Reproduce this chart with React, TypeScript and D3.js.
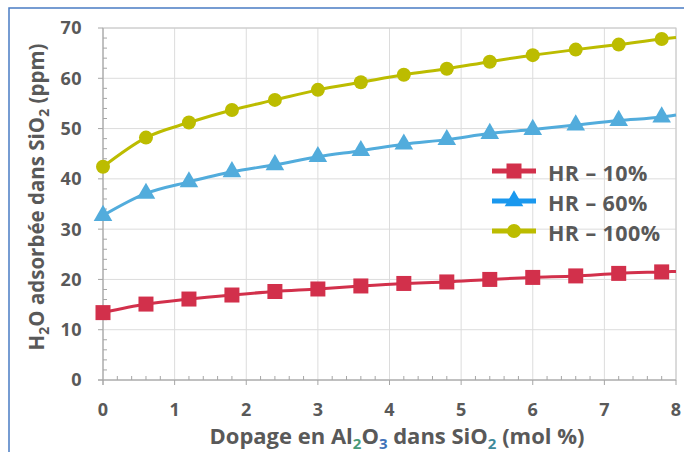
import React from "react";
import * as d3 from "d3";

const xValues = [0, 0.6, 1.2, 1.8, 2.4, 3.0, 3.6, 4.2, 4.8, 5.4, 6.0, 6.6, 7.2, 7.8];
const hr10 = [13.4, 15.1, 16.1, 16.9, 17.6, 18.1, 18.7, 19.2, 19.5, 20.0, 20.4, 20.7, 21.2, 21.5];
const hr60 = [32.7, 37.1, 39.4, 41.4, 42.8, 44.4, 45.6, 46.9, 47.8, 49.0, 49.8, 50.7, 51.6, 52.3];
const hr100 = [42.4, 48.2, 51.2, 53.7, 55.7, 57.7, 59.2, 60.7, 61.9, 63.3, 64.6, 65.7, 66.7, 67.8];
// value of each curve at the right edge of the plot (x = 8)
const lineEndX = 8;
const lineEnd = { hr10: 21.6, hr60: 52.7, hr100: 68.1 };

const xTicks = [0, 1, 2, 3, 4, 5, 6, 7, 8];
const yTicks = [0, 10, 20, 30, 40, 50, 60, 70];
const seriesNames = ["HR – 10%", "HR – 60%", "HR – 100%"];

const W = 684;
const H = 452;
const M = { left: 103, right: 676, top: 28, bottom: 380 };

const grey = "#595959";
const font = "'Open Sans', sans-serif";

export default function App() {
  const x = d3.scaleLinear().domain([0, 8]).range([M.left, M.right]);
  const y = d3.scaleLinear().domain([0, 70]).range([M.bottom, M.top]);
  const line = d3
    .line<[number, number]>()
    .x((d) => x(d[0]))
    .y((d) => y(d[1]))
    .curve(d3.curveMonotoneX);

  const series = [
    { name: seriesNames[0], vals: hr10, end: lineEnd.hr10, color: "#d2304b", legendColor: "#d2304b", shape: "square" },
    { name: seriesNames[1], vals: hr60, end: lineEnd.hr60, color: "#52acdc", legendColor: "#1a98ee", shape: "triangle" },
    { name: seriesNames[2], vals: hr100, end: lineEnd.hr100, color: "#bcbc00", legendColor: "#bcbc00", shape: "circle" },
  ];

  const marker = (shape: string, cx: number, cy: number, color: string, key: any) => {
    if (shape === "square")
      return <rect key={key} x={cx - 7.5} y={cy - 7.5} width={15} height={15} fill={color} />;
    if (shape === "triangle")
      return <path key={key} d={d3.symbol(d3.symbolTriangle, 150)()!} transform={`translate(${cx},${cy})`} fill={color} />;
    return <circle key={key} cx={cx} cy={cy} r={7} fill={color} />;
  };

  const xMinor = d3.range(0, 8.001, 0.2).filter((v) => Math.abs(v - Math.round(v)) > 1e-6);
  const yMinor = d3.range(0, 70.001, 2).filter((v) => v % 10 !== 0);

  return (
    <svg width={W} height={H} style={{ position: "absolute", left: 0, top: 0, background: "#fff" }}>
      <rect x={9} y={8} width={800} height={600} fill="none" stroke="#4a7cc4" strokeWidth={1.5} />
      {/* grid */}
      {xTicks.map((t) => (
        <line key={"gx" + t} x1={x(t)} x2={x(t)} y1={M.top} y2={M.bottom} stroke="#dcdcdc" strokeWidth={1} />
      ))}
      {yTicks.map((t) => (
        <line key={"gy" + t} x1={M.left} x2={M.right} y1={y(t)} y2={y(t)} stroke="#dcdcdc" strokeWidth={1} />
      ))}
      <rect x={M.left} y={M.top} width={M.right - M.left} height={M.bottom - M.top} fill="none" stroke="#c8c8c8" strokeWidth={1} />
      {/* axes */}
      <line x1={M.left} x2={M.left} y1={M.top} y2={M.bottom + 5} stroke="#a6a6a6" strokeWidth={1} />
      <line x1={M.left - 5} x2={M.right} y1={M.bottom} y2={M.bottom} stroke="#a6a6a6" strokeWidth={1} />
      {yTicks.map((t) => (
        <line key={"ty" + t} x1={M.left - 5} x2={M.left} y1={y(t)} y2={y(t)} stroke="#a6a6a6" />
      ))}
      {yMinor.map((t) => (
        <line key={"my" + t} x1={M.left} x2={M.left + 4} y1={y(t)} y2={y(t)} stroke="#a6a6a6" />
      ))}
      {xTicks.map((t) => (
        <line key={"tx" + t} x1={x(t)} x2={x(t)} y1={M.bottom} y2={M.bottom + 5} stroke="#a6a6a6" />
      ))}
      {xMinor.map((t) => (
        <line key={"mx" + t} x1={x(t)} x2={x(t)} y1={M.bottom - 4} y2={M.bottom} stroke="#a6a6a6" />
      ))}
      {/* tick labels */}
      {yTicks.map((t) => (
        <text key={"ly" + t} x={M.left - 21} y={y(t)} dy="0.36em" textAnchor="end" fontFamily={font} fontWeight={700} fontSize={18} letterSpacing={0.5} fill={grey}>
          {t}
        </text>
      ))}
      {xTicks.map((t) => (
        <text key={"lx" + t} x={x(t)} y={M.bottom + 36} textAnchor="middle" fontFamily={font} fontWeight={700} fontSize={18} fill={grey}>
          {t}
        </text>
      ))}
      {/* series */}
      {series.map((s, i) => {
        const pts: [number, number][] = xValues.map((v, j) => [v, s.vals[j]]);
        pts.push([lineEndX, s.end]);
        return (
          <g key={"s" + i}>
            <path d={line(pts)!} fill="none" stroke={s.color} strokeWidth={3} />
            {xValues.map((v, j) => marker(s.shape, x(v), y(s.vals[j]), s.color, j))}
          </g>
        );
      })}
      {/* legend */}
      {series.map((s, i) => {
        const ly = 171 + i * 30;
        return (
          <g key={"lg" + i}>
            <line x1={492} x2={536} y1={ly} y2={ly} stroke={s.legendColor} strokeWidth={5} />
            {marker(s.shape, 514, ly, s.legendColor, "m")}
            <text x={548} y={ly + 2} dy="0.36em" fontFamily={font} fontWeight={700} fontSize={21.5} letterSpacing={0.4} fill={grey}>
              {s.name}
            </text>
          </g>
        );
      })}
      {/* axis titles */}
      <text x={397} y={444} textAnchor="middle" fontFamily={font} fontWeight={700} fontSize={22} fill={grey}>
        Dopage en Al
        <tspan fontSize={15} dy={5} fill="#4a9a78">2</tspan>
        <tspan dy={-5}>O</tspan>
        <tspan fontSize={15} dy={5} fill="#3f72b8">3</tspan>
        <tspan dy={-5}> dans SiO</tspan>
        <tspan fontSize={15} dy={5} fill="#3f8a9a">2</tspan>
        <tspan dy={-5}> (mol %)</tspan>
      </text>
      <text transform={`translate(44,197) rotate(-90)`} textAnchor="middle" fontFamily={font} fontWeight={700} fontSize={20.5} fill={grey}>
        H
        <tspan fontSize={14} dy={5}>2</tspan>
        <tspan dy={-5}>O adsorbée dans SiO</tspan>
        <tspan fontSize={14} dy={5}>2</tspan>
        <tspan dy={-5}> (ppm)</tspan>
      </text>
    </svg>
  );
}
